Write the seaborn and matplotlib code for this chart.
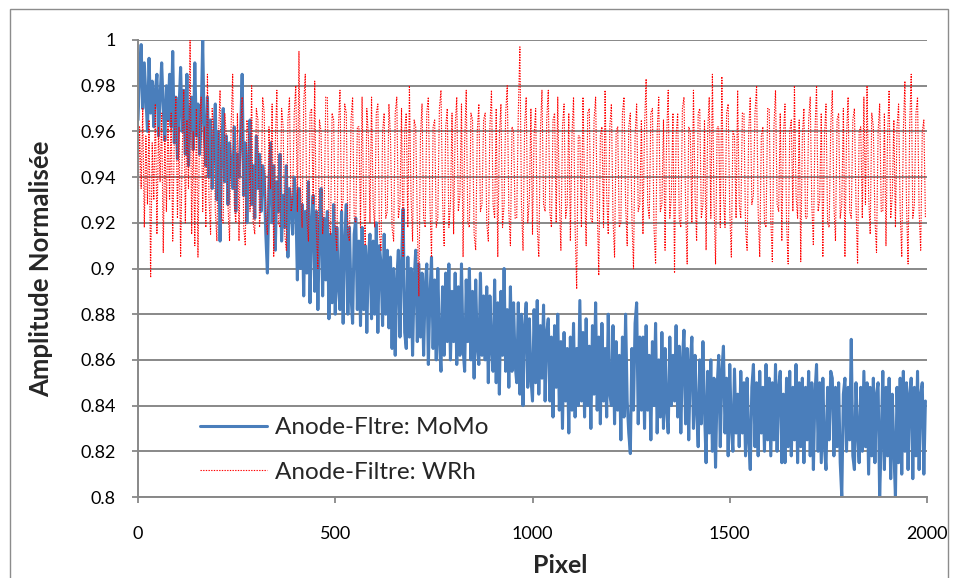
import numpy as np
import pandas as pd
import matplotlib
matplotlib.use("Agg")
import matplotlib.pyplot as plt
import seaborn as sns
from matplotlib.patches import Rectangle

sns.set_style("white")
plt.rcParams['font.family'] = ['Lato', 'DejaVu Sans']

# pixel positions sampled along the detector line (every 4 pixels)
pixel = np.arange(0, 2000, 4)

# Anode-Filtre MoMo (20 samples per row)
momo = [
    0.965, 0.985, 0.998, 0.970, 0.990, 0.975, 0.960, 0.992, 0.968, 0.982, 0.962, 0.978, 0.985, 0.958, 0.975, 0.990, 0.970, 0.956, 0.980, 0.965,
    0.985, 0.962, 0.995, 0.955, 0.975, 0.948, 0.970, 0.988, 0.960, 0.978, 0.950, 0.985, 0.945, 0.968, 0.975, 0.952, 0.990, 0.958, 0.972, 0.950,
    0.965, 1.000, 0.958, 0.945, 0.975, 0.940, 0.965, 0.935, 0.955, 0.972, 0.930, 0.960, 0.912, 0.950, 0.970, 0.938, 0.958, 0.928, 0.955, 0.945,
    0.935, 0.962, 0.925, 0.950, 0.940, 0.958, 0.985, 0.932, 0.955, 0.920, 0.948, 0.965, 0.928, 0.945, 0.922, 0.958, 0.935, 0.950, 0.925, 0.945,
    0.940, 0.915, 0.898, 0.935, 0.955, 0.920, 0.945, 0.908, 0.938, 0.925, 0.950, 0.912, 0.932, 0.918, 0.945, 0.905, 0.935, 0.928, 0.915, 0.940,
    0.930, 0.895, 0.935, 0.900, 0.928, 0.888, 0.925, 0.898, 0.938, 0.885, 0.920, 0.932, 0.890, 0.925, 0.882, 0.918, 0.935, 0.888, 0.922, 0.895,
    0.925, 0.878, 0.915, 0.885, 0.928, 0.880, 0.918, 0.892, 0.882, 0.925, 0.876, 0.912, 0.928, 0.880, 0.918, 0.888, 0.876, 0.915, 0.922, 0.882,
    0.912, 0.875, 0.918, 0.882, 0.910, 0.872, 0.905, 0.915, 0.878, 0.912, 0.880, 0.920, 0.872, 0.910, 0.902, 0.875, 0.915, 0.880, 0.908, 0.874,
    0.905, 0.865, 0.900, 0.862, 0.895, 0.908, 0.870, 0.902, 0.926, 0.872, 0.865, 0.905, 0.870, 0.900, 0.862, 0.895, 0.908, 0.868, 0.902, 0.870,
    0.898, 0.862, 0.892, 0.902, 0.858, 0.888, 0.905, 0.865, 0.895, 0.860, 0.900, 0.868, 0.855, 0.892, 0.862, 0.898, 0.868, 0.902, 0.860, 0.890,
    0.868, 0.898, 0.858, 0.892, 0.862, 0.902, 0.865, 0.855, 0.895, 0.868, 0.900, 0.860, 0.890, 0.852, 0.895, 0.865, 0.858, 0.898, 0.862, 0.888,
    0.860, 0.892, 0.850, 0.888, 0.865, 0.855, 0.895, 0.850, 0.885, 0.845, 0.890, 0.862, 0.900, 0.855, 0.882, 0.848, 0.892, 0.855, 0.885, 0.858,
    0.850, 0.885, 0.845, 0.880, 0.840, 0.875, 0.885, 0.848, 0.878, 0.852, 0.842, 0.882, 0.850, 0.886, 0.845, 0.875, 0.852, 0.884, 0.842, 0.872,
    0.878, 0.842, 0.870, 0.835, 0.875, 0.848, 0.880, 0.838, 0.868, 0.830, 0.872, 0.842, 0.865, 0.828, 0.870, 0.838, 0.876, 0.835, 0.865, 0.840,
    0.886, 0.842, 0.872, 0.835, 0.878, 0.840, 0.866, 0.830, 0.875, 0.845, 0.885, 0.838, 0.870, 0.832, 0.876, 0.842, 0.865, 0.835, 0.880, 0.845,
    0.840, 0.875, 0.832, 0.868, 0.838, 0.862, 0.825, 0.870, 0.835, 0.880, 0.842, 0.828, 0.819, 0.865, 0.838, 0.876, 0.885, 0.832, 0.870, 0.838,
    0.870, 0.830, 0.875, 0.838, 0.862, 0.825, 0.868, 0.840, 0.876, 0.828, 0.860, 0.835, 0.872, 0.830, 0.865, 0.838, 0.828, 0.870, 0.840, 0.862,
    0.842, 0.875, 0.835, 0.866, 0.828, 0.860, 0.873, 0.832, 0.865, 0.825, 0.858, 0.870, 0.830, 0.862, 0.838, 0.822, 0.860, 0.832, 0.868, 0.838,
    0.815, 0.855, 0.828, 0.860, 0.820, 0.852, 0.813, 0.848, 0.862, 0.822, 0.855, 0.866, 0.828, 0.852, 0.818, 0.858, 0.830, 0.820, 0.856, 0.828,
    0.845, 0.822, 0.855, 0.828, 0.850, 0.818, 0.852, 0.825, 0.812, 0.848, 0.858, 0.822, 0.850, 0.818, 0.855, 0.828, 0.848, 0.820, 0.858, 0.825,
    0.852, 0.818, 0.850, 0.825, 0.858, 0.820, 0.848, 0.855, 0.815, 0.845, 0.815, 0.852, 0.822, 0.855, 0.818, 0.848, 0.825, 0.858, 0.815, 0.850,
    0.822, 0.852, 0.815, 0.848, 0.825, 0.855, 0.818, 0.850, 0.812, 0.845, 0.858, 0.820, 0.850, 0.815, 0.852, 0.822, 0.812, 0.848, 0.825, 0.855,
    0.852, 0.818, 0.848, 0.822, 0.850, 0.815, 0.800, 0.845, 0.852, 0.820, 0.848, 0.825, 0.869, 0.818, 0.812, 0.850, 0.828, 0.815, 0.848, 0.820,
    0.855, 0.822, 0.850, 0.810, 0.848, 0.818, 0.852, 0.815, 0.845, 0.850, 0.800, 0.825, 0.855, 0.812, 0.848, 0.818, 0.852, 0.808, 0.845, 0.820,
    0.800, 0.848, 0.815, 0.852, 0.810, 0.855, 0.820, 0.850, 0.812, 0.845, 0.852, 0.808, 0.848, 0.818, 0.855, 0.812, 0.845, 0.850, 0.810, 0.842,
]

# Anode-Filtre WRh
wrh = [
    0.922, 0.962, 0.935, 0.970, 0.918, 0.958, 0.928, 0.965, 0.896, 0.955, 0.930, 0.972, 0.915, 0.962, 0.938, 0.968, 0.907, 0.958, 0.925, 0.965,
    0.930, 0.968, 0.912, 0.958, 0.975, 0.922, 0.962, 0.905, 0.950, 0.978, 0.920, 0.965, 0.935, 1.000, 0.915, 0.960, 0.910, 0.970, 0.905, 0.962,
    0.975, 0.925, 0.962, 0.918, 0.985, 0.930, 0.915, 0.970, 0.960, 0.925, 0.912, 0.958, 0.978, 0.922, 0.920, 0.968, 0.958, 0.928, 0.912, 0.962,
    0.985, 0.928, 0.920, 0.968, 0.912, 0.960, 0.975, 0.918, 0.910, 0.965, 0.958, 0.925, 0.980, 0.920, 0.915, 0.970, 0.965, 0.918, 0.930, 0.975,
    0.968, 0.922, 0.915, 0.962, 0.935, 0.972, 0.905, 0.955, 0.978, 0.920, 0.918, 0.970, 0.962, 0.915, 0.908, 0.965, 0.975, 0.925, 0.930, 0.968,
    0.980, 0.925, 0.995, 0.935, 0.918, 0.972, 0.985, 0.922, 0.912, 0.968, 0.970, 0.928, 0.982, 0.918, 0.900, 0.965, 0.960, 0.915, 0.925, 0.975,
    0.975, 0.920, 0.915, 0.968, 0.965, 0.918, 0.908, 0.962, 0.978, 0.925, 0.930, 0.972, 0.968, 0.915, 0.912, 0.965, 0.975, 0.922, 0.920, 0.962,
    0.962, 0.918, 0.975, 0.930, 0.910, 0.970, 0.958, 0.920, 0.975, 0.928, 0.918, 0.968, 0.972, 0.915, 0.908, 0.960, 0.968, 0.922, 0.925, 0.972,
    0.958, 0.918, 0.912, 0.968, 0.975, 0.922, 0.928, 0.970, 0.905, 0.960, 0.968, 0.918, 0.980, 0.932, 0.912, 0.965, 0.962, 0.920, 0.888, 0.958,
    0.972, 0.922, 0.918, 0.968, 0.975, 0.928, 0.905, 0.962, 0.965, 0.918, 0.922, 0.970, 0.978, 0.930, 0.910, 0.962, 0.970, 0.918, 0.928, 0.968,
    0.915, 0.962, 0.975, 0.925, 0.932, 0.972, 0.905, 0.955, 0.978, 0.920, 0.918, 0.968, 0.965, 0.915, 0.908, 0.960, 0.972, 0.925, 0.928, 0.965,
    0.968, 0.920, 0.912, 0.962, 0.978, 0.928, 0.922, 0.970, 0.905, 0.958, 0.972, 0.918, 0.928, 0.968, 0.980, 0.925, 0.910, 0.962, 0.960, 0.922,
    0.922, 0.968, 0.997, 0.928, 0.908, 0.962, 0.975, 0.920, 0.930, 0.970, 0.915, 0.958, 0.970, 0.918, 0.905, 0.960, 0.978, 0.928, 0.925, 0.965,
    0.978, 0.925, 0.918, 0.965, 0.968, 0.920, 0.975, 0.930, 0.908, 0.962, 0.972, 0.922, 0.928, 0.968, 0.912, 0.958, 0.975, 0.918, 0.891, 0.958,
    0.958, 0.918, 0.975, 0.935, 0.910, 0.968, 0.970, 0.922, 0.920, 0.965, 0.975, 0.928, 0.897, 0.958, 0.962, 0.918, 0.978, 0.932, 0.915, 0.962,
    0.972, 0.922, 0.905, 0.960, 0.962, 0.918, 0.920, 0.968, 0.975, 0.928, 0.910, 0.962, 0.968, 0.922, 0.900, 0.958, 0.972, 0.925, 0.928, 0.965,
    0.915, 0.962, 0.983, 0.928, 0.922, 0.968, 0.970, 0.918, 0.902, 0.960, 0.975, 0.925, 0.928, 0.965, 0.908, 0.958, 0.978, 0.922, 0.932, 0.968,
    0.898, 0.958, 0.968, 0.922, 0.918, 0.970, 0.975, 0.928, 0.902, 0.962, 0.960, 0.920, 0.978, 0.932, 0.912, 0.968, 0.970, 0.922, 0.928, 0.965,
    0.908, 0.960, 0.975, 0.922, 0.985, 0.930, 0.902, 0.962, 0.962, 0.918, 0.984, 0.932, 0.918, 0.968, 0.972, 0.925, 0.905, 0.960, 0.958, 0.922,
    0.978, 0.928, 0.922, 0.968, 0.968, 0.918, 0.908, 0.960, 0.975, 0.928, 0.932, 0.968, 0.980, 0.925, 0.905, 0.958, 0.962, 0.920, 0.918, 0.970,
    0.970, 0.922, 0.903, 0.962, 0.978, 0.928, 0.925, 0.968, 0.912, 0.958, 0.972, 0.920, 0.902, 0.960, 0.965, 0.925, 0.980, 0.932, 0.922, 0.965,
    0.903, 0.958, 0.970, 0.922, 0.922, 0.965, 0.975, 0.928, 0.910, 0.960, 0.980, 0.925, 0.930, 0.968, 0.905, 0.958, 0.972, 0.920, 0.918, 0.962,
    0.978, 0.928, 0.912, 0.965, 0.968, 0.922, 0.928, 0.970, 0.905, 0.958, 0.975, 0.925, 0.922, 0.965, 0.970, 0.928, 0.902, 0.960, 0.962, 0.922,
    0.975, 0.928, 0.980, 0.932, 0.915, 0.968, 0.962, 0.922, 0.907, 0.960, 0.972, 0.925, 0.925, 0.968, 0.910, 0.958, 0.978, 0.922, 0.932, 0.965,
    0.918, 0.962, 0.972, 0.925, 0.905, 0.960, 0.982, 0.928, 0.902, 0.962, 0.985, 0.922, 0.928, 0.968, 0.975, 0.925, 0.908, 0.960, 0.965, 0.922,
]

labels = ['Anode-Fltre: MoMo', 'Anode-Filtre: WRh']
y_ticks = [0.8, 0.82, 0.84, 0.86, 0.88, 0.9, 0.92, 0.94, 0.96, 0.98, 1.0]
y_ticklabels = ['0.8', '0.82', '0.84', '0.86', '0.88', '0.9', '0.92', '0.94', '0.96', '0.98', '1']
x_ticks = [0, 500, 1000, 1500, 2000]

df = pd.DataFrame({'Pixel': pixel, 'MoMo': momo, 'WRh': wrh})

fig = plt.figure(figsize=(9.58, 5.78), dpi=100)
ax = fig.add_axes([138 / 958, 1 - 497 / 578, 789 / 958, 457 / 578])

sns.lineplot(data=df, x='Pixel', y='MoMo', ax=ax, color='#4A7EBB', linewidth=2.2, label=labels[0])
sns.lineplot(data=df, x='Pixel', y='WRh', ax=ax, color='#FF0000', linewidth=0.8,
             linestyle=(0, (1.2, 1.2)), label=labels[1])

ax.set_xlim(0, 2000)
ax.set_ylim(0.8, 1.0)
ax.set_yticks(y_ticks)
ax.set_yticklabels(y_ticklabels)
ax.set_xticks(x_ticks)
ax.grid(axis='y', color='#888888', linewidth=1.4)
ax.set_axisbelow(True)

for side in ['top', 'right']:
    ax.spines[side].set_visible(False)
for side in ['left', 'bottom']:
    ax.spines[side].set_color('#888888')
    ax.spines[side].set_linewidth(1.4)

ax.tick_params(axis='both', direction='out', length=4, width=1.3, color='#888888',
               labelsize=13, labelcolor='black', bottom=True, left=True)
ax.tick_params(axis='x', pad=17)
ax.tick_params(axis='y', pad=12)

ax.set_xlabel('Pixel', fontsize=18, fontweight='bold')
ax.set_ylabel('Amplitude Normalisée', fontsize=18.5, fontweight='bold')
ax.xaxis.set_label_coords(0.535, -0.125)
ax.yaxis.set_label_coords(-0.108, 0.5)

ax.legend(loc='lower left', bbox_to_anchor=(0.063, 0.005), frameon=False, fontsize=17.5,
          handlelength=2.75, handletextpad=0.33, labelspacing=0.95, borderpad=0)

fig.patches.append(Rectangle((10 / 958, -0.01), 938 / 958, 1 - 9 / 578 + 0.01,
                             transform=fig.transFigure, fill=False,
                             edgecolor='#8c8c8c', linewidth=1))

fig.savefig('out.png', dpi=100)
